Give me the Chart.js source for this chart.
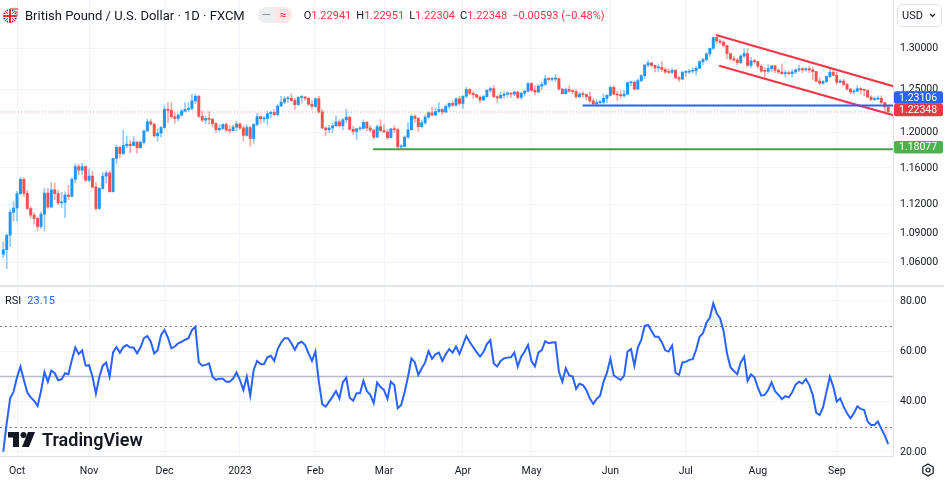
<!DOCTYPE html>
<html>
<head>
<meta charset="utf-8">
<title>GBPUSD 1D</title>
<script src="https://cdn.jsdelivr.net/npm/chart.js@4.4.1/dist/chart.umd.min.js"></script>
<style>
  body { margin: 0; background: #fff; font-family: Roboto, "Noto Sans", sans-serif; color: #131722; }
  #wrap { position: relative; width: 944px; height: 484px; overflow: hidden; }
  canvas { position: absolute; left: 0; }
  #mainCanvas { top: 0; }
  #rsiCanvas { top: 287px; }
  #paneSep { position: absolute; left: 0; top: 285px; width: 944px; height: 2px; background: #e0e3eb; }
  #legend { position: absolute; left: 3px; top: 6px; height: 18px; display: flex; align-items: center; white-space: nowrap; }
  #legend .title { font-size: 13px; margin-left: 6px; }
  .pill { display: inline-flex; margin-left: 13px; height: 16px; border-radius: 8px; overflow: hidden; }
  .pill span { display: inline-block; width: 17px; text-align: center; font-size: 12px; line-height: 16px; }
  .pill .a { background: #eceef2; color: #8f929c; }
  .pill .b { background: #fde4e6; color: #f23645; }
  .ohlc { font-size: 11px; margin-left: 12px; }
  .ohlc .v { color: #f23645; margin-right: 5px; }
  #usd { position: absolute; left: 897px; top: 4px; width: 45px; height: 23px; border: 1px solid #e0e3eb; border-radius: 5px; box-sizing: border-box; font-size: 11px; line-height: 21px; padding-left: 4px; }
  #usd svg { position: absolute; right: 5px; top: 8px; }
  #rsiLabel { position: absolute; left: 5px; top: 294px; font-size: 11px; }
  #rsiLabel .v { color: #2962ff; margin-left: 6px; }
  #tvLogo { position: absolute; left: 8px; top: 429px; display: flex; align-items: center; }
  #tvLogo span { font-size: 18px; font-weight: 600; margin-left: 7px; }
  #gear { position: absolute; left: 921px; top: 463px; }
</style>
</head>
<body>
<div id="wrap">
  <canvas id="mainCanvas" width="944" height="286"></canvas>
  <div id="paneSep"></div>
  <canvas id="rsiCanvas" width="944" height="197"></canvas>

  <div id="legend">
    <svg width="16" height="16" viewBox="0 0 16 16">
      <circle cx="11" cy="5" r="5" fill="#e8e8ee"/>
      <path d="M7 2h8M7 5h8M7 8h8" stroke="#d33" stroke-width="1.2"/>
      <clipPath id="c"><circle cx="7" cy="9" r="7"/></clipPath>
      <g clip-path="url(#c)">
        <rect x="0" y="2" width="14" height="14" fill="#1f3f8f"/>
        <path d="M0 2L14 16M14 2L0 16" stroke="#fff" stroke-width="3"/>
        <path d="M0 2L14 16M14 2L0 16" stroke="#d33" stroke-width="1"/>
        <path d="M7 2v14M0 9h14" stroke="#fff" stroke-width="4"/>
        <path d="M7 2v14M0 9h14" stroke="#d33" stroke-width="2"/>
      </g>
    </svg>
    <span class="title">British Pound / U.S. Dollar · 1D · FXCM</span>
    <span class="pill"><span class="a">—</span><span class="b">≈</span></span>
    <span class="ohlc" id="ohlc"></span>
  </div>
  <div id="usd">USD<svg width="7" height="5" viewBox="0 0 7 5"><path d="M1 1l2.5 2.5L6 1" fill="none" stroke="#131722" stroke-width="1.2"/></svg></div>

  <div id="rsiLabel">RSI<span class="v" id="rsiVal"></span></div>
  <div id="tvLogo">
    <svg width="27" height="15" viewBox="0 0 27 15">
      <path d="M0 0H11V15H5V5.5H0Z" fill="#131722"/>
      <circle cx="15.5" cy="3" r="3" fill="#131722"/>
      <path d="M20 0H27L21 15H14Z" fill="#131722"/>
    </svg>
    <span>TradingView</span>
  </div>
  <svg id="gear" width="14" height="14" viewBox="0 0 14 14">
    <path d="M7 1L12.2 4V10L7 13L1.8 10V4Z" fill="none" stroke="#131722" stroke-width="1.2"/>
    <circle cx="7" cy="7" r="2" fill="none" stroke="#131722" stroke-width="1.2"/>
  </svg>
</div>

<script>
// ---- data (daily bars, 27 Sep 2022 .. 22 Sep 2023, bar index = position) ----
const monthLabels = ['Oct', 'Nov', 'Dec', '2023', 'Feb', 'Mar', 'Apr', 'May', 'Jun', 'Jul', 'Aug', 'Sep'];
const monthStarts = [4, 25, 47, 69, 91, 111, 134, 154, 177, 199, 220, 243];

const opens = [
  1.0685, 1.0730, 1.0880, 1.1120,
  1.1165, 1.1320, 1.1475, 1.1322, 1.1160, 1.1090, 1.1055, 1.0970, 1.1100, 1.1325,
  1.1175, 1.1360, 1.1320, 1.1220, 1.1225, 1.1305, 1.1290, 1.1475, 1.1615, 1.1575, 1.1615,
  1.1465, 1.1510, 1.1390, 1.1160, 1.1375, 1.1510, 1.1545, 1.1340, 1.1705, 1.1830, 1.1760,
  1.1850, 1.1865, 1.1850, 1.1890, 1.1825, 1.1885, 1.2015, 1.2120, 1.2095, 1.1960, 1.1990,
  1.2055, 1.2265, 1.2255, 1.2180, 1.2160, 1.2200, 1.2245, 1.2265, 1.2275, 1.2365, 1.2420,
  1.2185, 1.2140, 1.2160, 1.2150, 1.2100, 1.2030, 1.2045, 1.2090, 1.2025, 1.2020, 1.2060,
  1.2095, 1.2050, 1.1965, 1.2055, 1.1930, 1.2090, 1.2180, 1.2155, 1.2160, 1.2215, 1.2230,
  1.2205, 1.2305, 1.2350, 1.2390, 1.2395, 1.2370, 1.2320, 1.2405, 1.2410, 1.2395, 1.2325,
  1.2300, 1.2390, 1.2235, 1.2050, 1.2030, 1.2050, 1.2075, 1.2120, 1.2075, 1.2145, 1.2175,
  1.2035, 1.2010, 1.2040, 1.2045, 1.2115, 1.2050, 1.2025, 1.1945, 1.2065,
  1.2020, 1.2005, 1.1940, 1.2040, 1.2030, 1.1835, 1.1840, 1.1945, 1.2030, 1.2185, 1.2160,
  1.2065, 1.2110, 1.2175, 1.2225, 1.2200, 1.2240, 1.2265, 1.2235, 1.2300, 1.2335, 1.2315, 1.2390,
  1.2335, 1.2420, 1.2500, 1.2455, 1.2440, 1.2410, 1.2375, 1.2415, 1.2490, 1.2510,
  1.2415, 1.2400, 1.2430, 1.2445, 1.2450, 1.2445, 1.2470, 1.2405, 1.2455, 1.2480,
  1.2570, 1.2490, 1.2470, 1.2540, 1.2560, 1.2630, 1.2620, 1.2625, 1.2630, 1.2505, 1.2450, 1.2500,
  1.2480, 1.2475, 1.2415, 1.2445, 1.2440, 1.2415, 1.2365, 1.2330, 1.2345, 1.2350, 1.2395,
  1.2430, 1.2525, 1.2445, 1.2435, 1.2425, 1.2445, 1.2580, 1.2585, 1.2505, 1.2605, 1.2665,
  1.2795, 1.2820, 1.2790, 1.2760, 1.2765, 1.2740, 1.2710, 1.2705, 1.2730, 1.2640, 1.2625,
  1.2705, 1.2710, 1.2720, 1.2725, 1.2755, 1.2835, 1.2860, 1.2930, 1.3000, 1.3135, 1.3090,
  1.3075, 1.3035, 1.2935, 1.2870, 1.2855, 1.2825, 1.2905, 1.2935, 1.2790, 1.2845,
  1.2835, 1.2780, 1.2720, 1.2718, 1.2750, 1.2785, 1.2730, 1.2710, 1.2690, 1.2700, 1.2690, 1.2710,
  1.2735, 1.2745, 1.2735, 1.2750, 1.2735, 1.2715, 1.2600, 1.2575, 1.2595, 1.2655, 1.2705,
  1.2670, 1.2585, 1.2600, 1.2560, 1.2505, 1.2470, 1.2480, 1.2510, 1.2495, 1.2490, 1.2410, 1.2380, 1.2385, 1.2395, 1.2345, 1.22941
];
const highs = [
  1.0810, 1.0890, 1.1145, 1.1235,
  1.1345, 1.1495, 1.1495, 1.1355, 1.1185, 1.1115, 1.1070, 1.1125, 1.1380, 1.1380,
  1.1440, 1.1435, 1.1355, 1.1335, 1.1340, 1.1410, 1.1495, 1.1645, 1.1640, 1.1650, 1.1620,
  1.1590, 1.1565, 1.1440, 1.1385, 1.1550, 1.1565, 1.1565, 1.1710, 1.1855, 1.1840, 1.2028,
  1.1955, 1.1905, 1.1950, 1.1895, 1.1905, 1.2030, 1.2155, 1.2150, 1.2100, 1.2040, 1.2070,
  1.2310, 1.2345, 1.2345, 1.2225, 1.2215, 1.2270, 1.2345, 1.2345, 1.2445, 1.2447, 1.2430,
  1.2245, 1.2185, 1.2240, 1.2160, 1.2115, 1.2090, 1.2100, 1.2110, 1.2075, 1.2085, 1.2125,
  1.2110, 1.2075, 1.2085, 1.2065, 1.2100, 1.2220, 1.2190, 1.2180, 1.2245, 1.2245, 1.2265,
  1.2320, 1.2420, 1.2415, 1.2420, 1.2448, 1.2395, 1.2415, 1.2430, 1.2420, 1.2410, 1.2370,
  1.2401, 1.2420, 1.2265, 1.2060, 1.2080, 1.2105, 1.2190, 1.2145, 1.2160, 1.2269, 1.2180,
  1.2070, 1.2045, 1.2065, 1.2145, 1.2125, 1.2080, 1.2040, 1.2085, 1.2145,
  1.2085, 1.2035, 1.2045, 1.2075, 1.2045, 1.1860, 1.1960, 1.2115, 1.2205, 1.2205, 1.2170,
  1.2140, 1.2200, 1.2240, 1.2290, 1.2285, 1.2345, 1.2275, 1.2320, 1.2345, 1.2365, 1.2405, 1.2420,
  1.2425, 1.2525, 1.2510, 1.2480, 1.2445, 1.2425, 1.2430, 1.2500, 1.2525, 1.2546,
  1.2425, 1.2475, 1.2475, 1.2475, 1.2460, 1.2485, 1.2480, 1.2465, 1.2490, 1.2585,
  1.2585, 1.2545, 1.2560, 1.2590, 1.2668, 1.2645, 1.2645, 1.2680, 1.2635, 1.2515, 1.2520, 1.2545,
  1.2495, 1.2500, 1.2470, 1.2475, 1.2445, 1.2470, 1.2390, 1.2380, 1.2375, 1.2445, 1.2440,
  1.2545, 1.2545, 1.2480, 1.2485, 1.2490, 1.2590, 1.2600, 1.2600, 1.2625, 1.2680, 1.2800,
  1.2848, 1.2830, 1.2795, 1.2800, 1.2840, 1.2760, 1.2750, 1.2755, 1.2740, 1.2660, 1.2720,
  1.2725, 1.2740, 1.2760, 1.2780, 1.2850, 1.2875, 1.2950, 1.3003, 1.3142, 1.3145, 1.3110,
  1.3090, 1.3035, 1.2940, 1.2900, 1.2875, 1.2920, 1.2995, 1.2996, 1.2885, 1.2870,
  1.2840, 1.2800, 1.2760, 1.2800, 1.2790, 1.2790, 1.2750, 1.2810, 1.2730, 1.2720, 1.2740, 1.2750,
  1.2790, 1.2765, 1.2760, 1.2780, 1.2770, 1.2720, 1.2640, 1.2610, 1.2665, 1.2746, 1.2745,
  1.2705, 1.2620, 1.2625, 1.2575, 1.2515, 1.2500, 1.2545, 1.2525, 1.2505, 1.2495, 1.2425, 1.2410, 1.2425, 1.2425, 1.2348, 1.22951
];
const lows = [
  1.0650, 1.0539, 1.0765, 1.1030,
  1.1025, 1.1305, 1.1290, 1.1150, 1.1060, 1.0998, 1.0925, 1.0950, 1.0925, 1.1160,
  1.1175, 1.1255, 1.1200, 1.1170, 1.1060, 1.1255, 1.1285, 1.1440, 1.1525, 1.1525, 1.1445,
  1.1445, 1.1380, 1.1142, 1.1150, 1.1365, 1.1435, 1.1335, 1.1335, 1.1645, 1.1710, 1.1745,
  1.1825, 1.1765, 1.1845, 1.1765, 1.1820, 1.1865, 1.2010, 1.2080, 1.1945, 1.1900, 1.1945,
  1.2045, 1.2110, 1.2160, 1.2105, 1.2130, 1.2185, 1.2235, 1.2240, 1.2260, 1.2330, 1.2170,
  1.2120, 1.2100, 1.2095, 1.2060, 1.2000, 1.2010, 1.2030, 1.2010, 1.1990, 1.2015, 1.2015,
  1.2030, 1.1900, 1.1955, 1.1840, 1.1875, 1.2070, 1.2100, 1.2110, 1.2085, 1.2170, 1.2190,
  1.2190, 1.2300, 1.2330, 1.2345, 1.2355, 1.2265, 1.2315, 1.2340, 1.2370, 1.2315, 1.2265,
  1.2285, 1.2220, 1.2040, 1.1960, 1.1995, 1.1995, 1.2065, 1.2060, 1.2030, 1.2110, 1.2025,
  1.1975, 1.1915, 1.2020, 1.2035, 1.2015, 1.2005, 1.1925, 1.1935, 1.2005,
  1.1995, 1.1920, 1.1935, 1.2000, 1.1825, 1.1803, 1.1835, 1.1930, 1.2025, 1.2115, 1.2010,
  1.2050, 1.2090, 1.2155, 1.2190, 1.2190, 1.2230, 1.2205, 1.2225, 1.2275, 1.2300, 1.2300, 1.2310,
  1.2275, 1.2400, 1.2440, 1.2395, 1.2400, 1.2345, 1.2370, 1.2405, 1.2465, 1.2405,
  1.2345, 1.2390, 1.2395, 1.2410, 1.2400, 1.2425, 1.2390, 1.2385, 1.2420, 1.2465,
  1.2475, 1.2435, 1.2460, 1.2500, 1.2550, 1.2600, 1.2600, 1.2590, 1.2490, 1.2445, 1.2445, 1.2465,
  1.2450, 1.2395, 1.2400, 1.2405, 1.2375, 1.2340, 1.2308, 1.2310, 1.2330, 1.2330, 1.2345,
  1.2420, 1.2435, 1.2370, 1.2400, 1.2410, 1.2435, 1.2545, 1.2490, 1.2495, 1.2590, 1.2630,
  1.2770, 1.2770, 1.2710, 1.2710, 1.2715, 1.2690, 1.2690, 1.2690, 1.2630, 1.2590, 1.2615,
  1.2655, 1.2690, 1.2695, 1.2675, 1.2750, 1.2800, 1.2845, 1.2900, 1.2985, 1.3055, 1.3050,
  1.3015, 1.2870, 1.2845, 1.2845, 1.2800, 1.2810, 1.2880, 1.2780, 1.2760, 1.2815,
  1.2760, 1.2705, 1.2620, 1.2700, 1.2715, 1.2700, 1.2690, 1.2680, 1.2650, 1.2675, 1.2650, 1.2690,
  1.2715, 1.2700, 1.2720, 1.2700, 1.2616, 1.2590, 1.2550, 1.2560, 1.2580, 1.2640, 1.2660,
  1.2560, 1.2580, 1.2545, 1.2490, 1.2445, 1.2445, 1.2475, 1.2445, 1.2425, 1.2400, 1.2365, 1.2370, 1.2380, 1.2335, 1.2240, 1.22304
];
const closes = [
  1.0730, 1.0880, 1.1120, 1.1165,
  1.1320, 1.1475, 1.1322, 1.1160, 1.1090, 1.1055, 1.0970, 1.1100, 1.1325, 1.1175,
  1.1360, 1.1320, 1.1220, 1.1225, 1.1305, 1.1290, 1.1475, 1.1615, 1.1575, 1.1615, 1.1465,
  1.1510, 1.1390, 1.1160, 1.1375, 1.1510, 1.1545, 1.1340, 1.1705, 1.1830, 1.1760, 1.1850,
  1.1865, 1.1850, 1.1890, 1.1825, 1.1885, 1.2015, 1.2120, 1.2095, 1.1960, 1.1990, 1.2055,
  1.2265, 1.2255, 1.2180, 1.2160, 1.2200, 1.2245, 1.2265, 1.2275, 1.2365, 1.2420, 1.2185,
  1.2140, 1.2160, 1.2150, 1.2100, 1.2030, 1.2045, 1.2090, 1.2025, 1.2020, 1.2060, 1.2095,
  1.2050, 1.1965, 1.2055, 1.1930, 1.2090, 1.2180, 1.2155, 1.2160, 1.2215, 1.2230, 1.2205,
  1.2305, 1.2350, 1.2390, 1.2395, 1.2370, 1.2320, 1.2405, 1.2410, 1.2395, 1.2325, 1.2300,
  1.2390, 1.2235, 1.2050, 1.2030, 1.2050, 1.2075, 1.2120, 1.2075, 1.2145, 1.2175, 1.2035,
  1.2010, 1.2040, 1.2045, 1.2115, 1.2050, 1.2025, 1.1945, 1.2065, 1.2020,
  1.2005, 1.1940, 1.2040, 1.2030, 1.1835, 1.1840, 1.1945, 1.2030, 1.2185, 1.2160, 1.2065,
  1.2110, 1.2175, 1.2225, 1.2200, 1.2240, 1.2265, 1.2235, 1.2300, 1.2335, 1.2315, 1.2390, 1.2335,
  1.2420, 1.2500, 1.2455, 1.2440, 1.2410, 1.2375, 1.2415, 1.2490, 1.2510, 1.2415,
  1.2400, 1.2430, 1.2445, 1.2450, 1.2445, 1.2470, 1.2405, 1.2455, 1.2480, 1.2570,
  1.2490, 1.2470, 1.2540, 1.2560, 1.2630, 1.2620, 1.2625, 1.2630, 1.2505, 1.2450, 1.2500, 1.2480,
  1.2475, 1.2415, 1.2445, 1.2440, 1.2415, 1.2365, 1.2330, 1.2345, 1.2350, 1.2395, 1.2430,
  1.2525, 1.2445, 1.2435, 1.2425, 1.2445, 1.2580, 1.2585, 1.2505, 1.2605, 1.2665, 1.2795,
  1.2820, 1.2790, 1.2760, 1.2765, 1.2740, 1.2710, 1.2705, 1.2730, 1.2640, 1.2625, 1.2705,
  1.2710, 1.2720, 1.2725, 1.2755, 1.2835, 1.2860, 1.2930, 1.3000, 1.3135, 1.3090, 1.3075,
  1.3035, 1.2935, 1.2870, 1.2855, 1.2825, 1.2905, 1.2935, 1.2790, 1.2845, 1.2835,
  1.2780, 1.2720, 1.2718, 1.2750, 1.2785, 1.2730, 1.2710, 1.2690, 1.2700, 1.2690, 1.2710, 1.2735,
  1.2745, 1.2735, 1.2750, 1.2735, 1.2715, 1.2600, 1.2575, 1.2595, 1.2655, 1.2705, 1.2670,
  1.2585, 1.2600, 1.2560, 1.2505, 1.2470, 1.2480, 1.2510, 1.2495, 1.2490, 1.2410, 1.2380, 1.2385, 1.2395, 1.2345, 1.22941, 1.22348
];
const rsi = [
  20.1, 31.5, 41.3, 44.0, 49.7, 53.9, 48.6, 43.6, 41.7, 40.3, 38.3, 44.2, 51.7, 47.9,
  52.3, 51.3, 48.5, 48.9, 51.3, 50.9, 56.6, 61.5, 58.9, 60.4, 54.3,
  54.5, 50.0, 43.2, 49.8, 54.3, 55.5, 49.9, 59.6, 61.7, 59.4, 61.7,
  62.5, 61.5, 61.5, 59.2, 61.5, 65.2, 66.0, 63.8, 59.2, 60.4, 66.5,
  68.5, 65.5, 61.2, 61.9, 63.2, 63.8, 64.6, 65.2, 68.4, 69.8, 55.6,
  54.3, 54.6, 55.2, 49.9, 48.7, 49.1, 49.1, 47.9, 47.9, 49.2, 51.6,
  48.6, 44.6, 49.9, 42.4, 52.6, 56.2, 55.0, 54.9, 57.6, 58.2, 56.2,
  60.9, 63.5, 65.2, 65.2, 63.2, 60.6, 63.2, 63.8, 62.5, 59.2, 56.2,
  59.9, 48.0, 39.0, 38.0, 40.0, 42.0, 44.2, 41.3, 47.7, 49.5, 41.6,
  40.4, 43.3, 43.3, 48.3, 44.2, 42.7, 39.4, 47.6, 45.8,
  44.6, 41.1, 47.9, 46.6, 37.4, 38.7, 43.7, 49.9, 57.2, 55.6, 50.6,
  53.3, 55.6, 60.1, 57.0, 58.8, 59.5, 56.2, 58.8, 60.9, 59.5, 61.9, 59.0,
  62.5, 66.1, 63.7, 61.6, 59.7, 57.9, 59.7, 62.9, 64.5, 55.2,
  54.0, 56.2, 57.2, 57.5, 57.6, 59.5, 54.0, 57.9, 59.9, 62.5,
  56.0, 54.0, 59.5, 60.5, 64.0, 63.2, 63.5, 63.6, 51.9, 47.9, 53.3, 50.4,
  50.0, 45.1, 47.1, 46.6, 44.6, 41.3, 39.1, 41.1, 42.4, 47.9, 51.5,
  57.0, 50.4, 49.5, 48.6, 50.4, 59.9, 60.9, 54.3, 61.5, 64.5, 70.1,
  70.5, 68.1, 65.8, 65.8, 63.6, 60.4, 59.9, 62.3, 51.5, 50.6, 55.6,
  55.8, 56.6, 56.9, 60.6, 65.8, 67.2, 71.4, 73.4, 79.1, 75.1, 73.1,
  68.1, 59.2, 53.7, 52.2, 50.9, 55.6, 57.9, 48.2, 50.9, 49.7,
  45.6, 42.4, 42.7, 44.6, 47.7, 44.2, 42.7, 41.0, 42.2, 41.7, 43.7, 46.8,
  47.9, 47.2, 49.0, 46.6, 42.7, 35.6, 34.7, 37.7, 43.9, 49.9, 45.9,
  40.0, 41.3, 38.0, 35.4, 33.4, 35.4, 38.2, 37.1, 36.7, 32.1, 30.7, 30.7, 32.1, 29.2, 26.5, 23.15
];

const priceTicks = [1.06, 1.09, 1.12, 1.16, 1.20, 1.25, 1.30];
const rsiTicks = [20, 40, 60, 80];
const rsiLevels = [70, 50, 30];

// drawings: [bar index, price]
const supportLine = [[107.8, 1.18077], [262, 1.18077]];
const pivotLine = [[168.9, 1.23106], [262, 1.23106]];
const channelTop = [[207.8, 1.3165], [260, 1.2533]];
const channelBottom = [[208.7, 1.2786], [260, 1.2191]];

// ---- view ----
const xMin = -0.96, xMax = 259.4;
const priceMin = 1.0366, priceMax = 1.3612;
const rsiMin = 18.41, rsiMax = 85.56;
const AXIS_W = 51;

const UP = '#2196f3', DOWN = '#ef5350';
const UP_WICK = 'rgba(33,150,243,0.5)', DOWN_WICK = 'rgba(239,83,80,0.5)';
const GRID = '#f0f3fa', BORDER = '#e0e3eb';

Chart.defaults.font.family = "Roboto, 'Noto Sans', sans-serif";
Chart.defaults.color = '#131722';

const last = closes.length - 1;
const isUp = closes.map((c, i) => c >= opens[i]);
const pts = arr => arr.map(p => ({ x: p[0], y: p[1] }));

// no extra padding for edge labels, the panes must fill the canvas
const noPad = s => { s.paddingTop = 0; s.paddingBottom = 0; s.paddingLeft = 0; s.paddingRight = 0; };

// legend texts from the data
const chg = closes[last] - closes[last - 1];
const fmt = v => v.toFixed(5).replace('-', '−');
document.getElementById('ohlc').innerHTML =
  'O<span class="v">' + fmt(opens[last]) + '</span>' +
  'H<span class="v">' + fmt(highs[last]) + '</span>' +
  'L<span class="v">' + fmt(lows[last]) + '</span>' +
  'C<span class="v">' + fmt(closes[last]) + '</span>' +
  '<span class="v">' + fmt(chg) + ' (' + (chg / closes[last - 1] * 100).toFixed(2).replace('-', '−') + '%)</span>';
document.getElementById('rsiVal').textContent = rsi[last].toFixed(2);

const tagValues = [pivotLine[0][1], closes[last], supportLine[0][1]];
const tagColors = ['#2962ff', '#f23645', '#4caf50'];

// price boxes on the right axis (sit a touch above their line, pushed apart when they collide)
const priceTags = {
  id: 'priceTags',
  afterDraw(chart) {
    const { ctx, chartArea, scales: { y } } = chart;
    const h = 12.5;
    const tags = tagValues.map((v, k) => ({ v, color: tagColors[k], cy: y.getPixelForValue(v) - 2 }));
    tags.sort((a, b) => b.cy - a.cy);
    for (let k = 1; k < tags.length; k++) {
      if (tags[k - 1].cy - tags[k].cy < h) tags[k].cy = tags[k - 1].cy - h;
    }
    ctx.save();
    ctx.font = "10.5px Roboto, 'Noto Sans', sans-serif";
    ctx.textBaseline = 'middle';
    tags.forEach(t => {
      ctx.fillStyle = t.color;
      ctx.beginPath();
      ctx.roundRect(chartArea.right + 1, t.cy - h / 2, AXIS_W - 2, h, 2);
      ctx.fill();
      ctx.fillStyle = '#fff';
      ctx.fillText(t.v.toFixed(5), chartArea.right + 6, t.cy + 0.5);
    });
    ctx.restore();
  }
};

new Chart(document.getElementById('mainCanvas'), {
  type: 'bar',
  data: {
    datasets: [
      { type: 'line', data: [{ x: xMin, y: closes[last] }, { x: xMax, y: closes[last] }],
        borderColor: 'rgba(242,54,69,0.55)', borderWidth: 1, borderDash: [1, 2], pointRadius: 0, order: 9 },
      { data: closes.map((c, i) => ({ x: i, y: [lows[i], highs[i]] })),
        backgroundColor: isUp.map(u => u ? UP_WICK : DOWN_WICK),
        barThickness: 1, grouped: false, order: 8 },
      { data: closes.map((c, i) => ({ x: i, y: [opens[i], c] })),
        backgroundColor: isUp.map(u => u ? UP : DOWN),
        barThickness: 2.3, minBarLength: 1, grouped: false, order: 7 },
      { type: 'line', data: pts(supportLine), borderColor: '#43a047', borderWidth: 2, pointRadius: 0, order: 1 },
      { type: 'line', data: pts(pivotLine), borderColor: '#2962ff', borderWidth: 2, pointRadius: 0, order: 1 },
      { type: 'line', data: pts(channelTop), borderColor: '#f23645', borderWidth: 2, pointRadius: 0, order: 1 },
      { type: 'line', data: pts(channelBottom), borderColor: '#f23645', borderWidth: 2, pointRadius: 0, order: 1 }
    ]
  },
  options: {
    responsive: false, animation: false, devicePixelRatio: 1,
    layout: { padding: 0 },
    plugins: { legend: { display: false }, tooltip: { enabled: false } },
    scales: {
      x: {
        type: 'linear', min: xMin, max: xMax, offset: false,
        grid: { color: GRID, drawTicks: false, offset: false }, border: { display: false },
        ticks: { display: false },
        afterBuildTicks: s => { s.ticks = monthStarts.map(v => ({ value: v })); },
        afterFit: s => { s.height = 0; noPad(s); }
      },
      y: {
        type: 'logarithmic', position: 'right', min: priceMin, max: priceMax,
        grid: { color: GRID, drawTicks: false }, border: { color: BORDER },
        ticks: { padding: 7, font: { size: 10.5 }, callback: v => Number(v).toFixed(5) },
        afterBuildTicks: s => { s.ticks = priceTicks.map(v => ({ value: v })); },
        afterFit: s => { s.width = AXIS_W; noPad(s); }
      }
    }
  },
  plugins: [priceTags]
});

// RSI reference lines 70 / 50 / 30
const rsiBands = {
  id: 'rsiBands',
  beforeDatasetsDraw(chart) {
    const { ctx, chartArea, scales: { y } } = chart;
    ctx.save();
    rsiLevels.forEach(v => {
      const py = Math.round(y.getPixelForValue(v)) + 0.5;
      ctx.beginPath();
      if (v === 50) {
        ctx.strokeStyle = '#b8bbc3'; ctx.lineWidth = 1.5; ctx.setLineDash([]);
      } else {
        ctx.strokeStyle = '#787b86'; ctx.lineWidth = 1; ctx.setLineDash([2, 3]);
      }
      ctx.moveTo(chartArea.left, py);
      ctx.lineTo(chartArea.right, py);
      ctx.stroke();
    });
    ctx.restore();
  }
};

const rsiPts = rsi.map((v, i) => ({ x: i, y: v }));
new Chart(document.getElementById('rsiCanvas'), {
  type: 'line',
  data: {
    datasets: [
      { data: rsiPts, borderColor: '#2962ff', borderWidth: 2, pointRadius: 0, tension: 0,
        fill: { target: { value: 70 }, above: 'rgba(76,175,80,0.12)', below: 'rgba(0,0,0,0)' } },
      { data: rsiPts, borderWidth: 0, borderColor: 'rgba(0,0,0,0)', pointRadius: 0,
        fill: { target: { value: 30 }, above: 'rgba(0,0,0,0)', below: 'rgba(242,54,69,0.12)' } }
    ]
  },
  options: {
    responsive: false, animation: false, devicePixelRatio: 1,
    layout: { padding: 0 },
    plugins: { legend: { display: false }, tooltip: { enabled: false } },
    scales: {
      x: {
        type: 'linear', min: xMin, max: xMax, offset: false,
        grid: { color: GRID, drawTicks: false }, border: { color: BORDER },
        ticks: { padding: 9, autoSkip: false, maxRotation: 0, font: { size: 10.5 },
                 callback: v => monthLabels[monthStarts.indexOf(v)] },
        afterBuildTicks: s => { s.ticks = monthStarts.map(v => ({ value: v })); },
        afterFit: s => { s.height = 28; noPad(s); }
      },
      y: {
        position: 'right', min: rsiMin, max: rsiMax,
        grid: { color: GRID, drawTicks: false }, border: { color: BORDER },
        ticks: { padding: 7, font: { size: 10.5 }, callback: v => Number(v).toFixed(2) },
        afterBuildTicks: s => { s.ticks = rsiTicks.map(v => ({ value: v })); },
        afterFit: s => { s.width = AXIS_W; noPad(s); }
      }
    }
  },
  plugins: [rsiBands]
});
</script>
</body>
</html>
